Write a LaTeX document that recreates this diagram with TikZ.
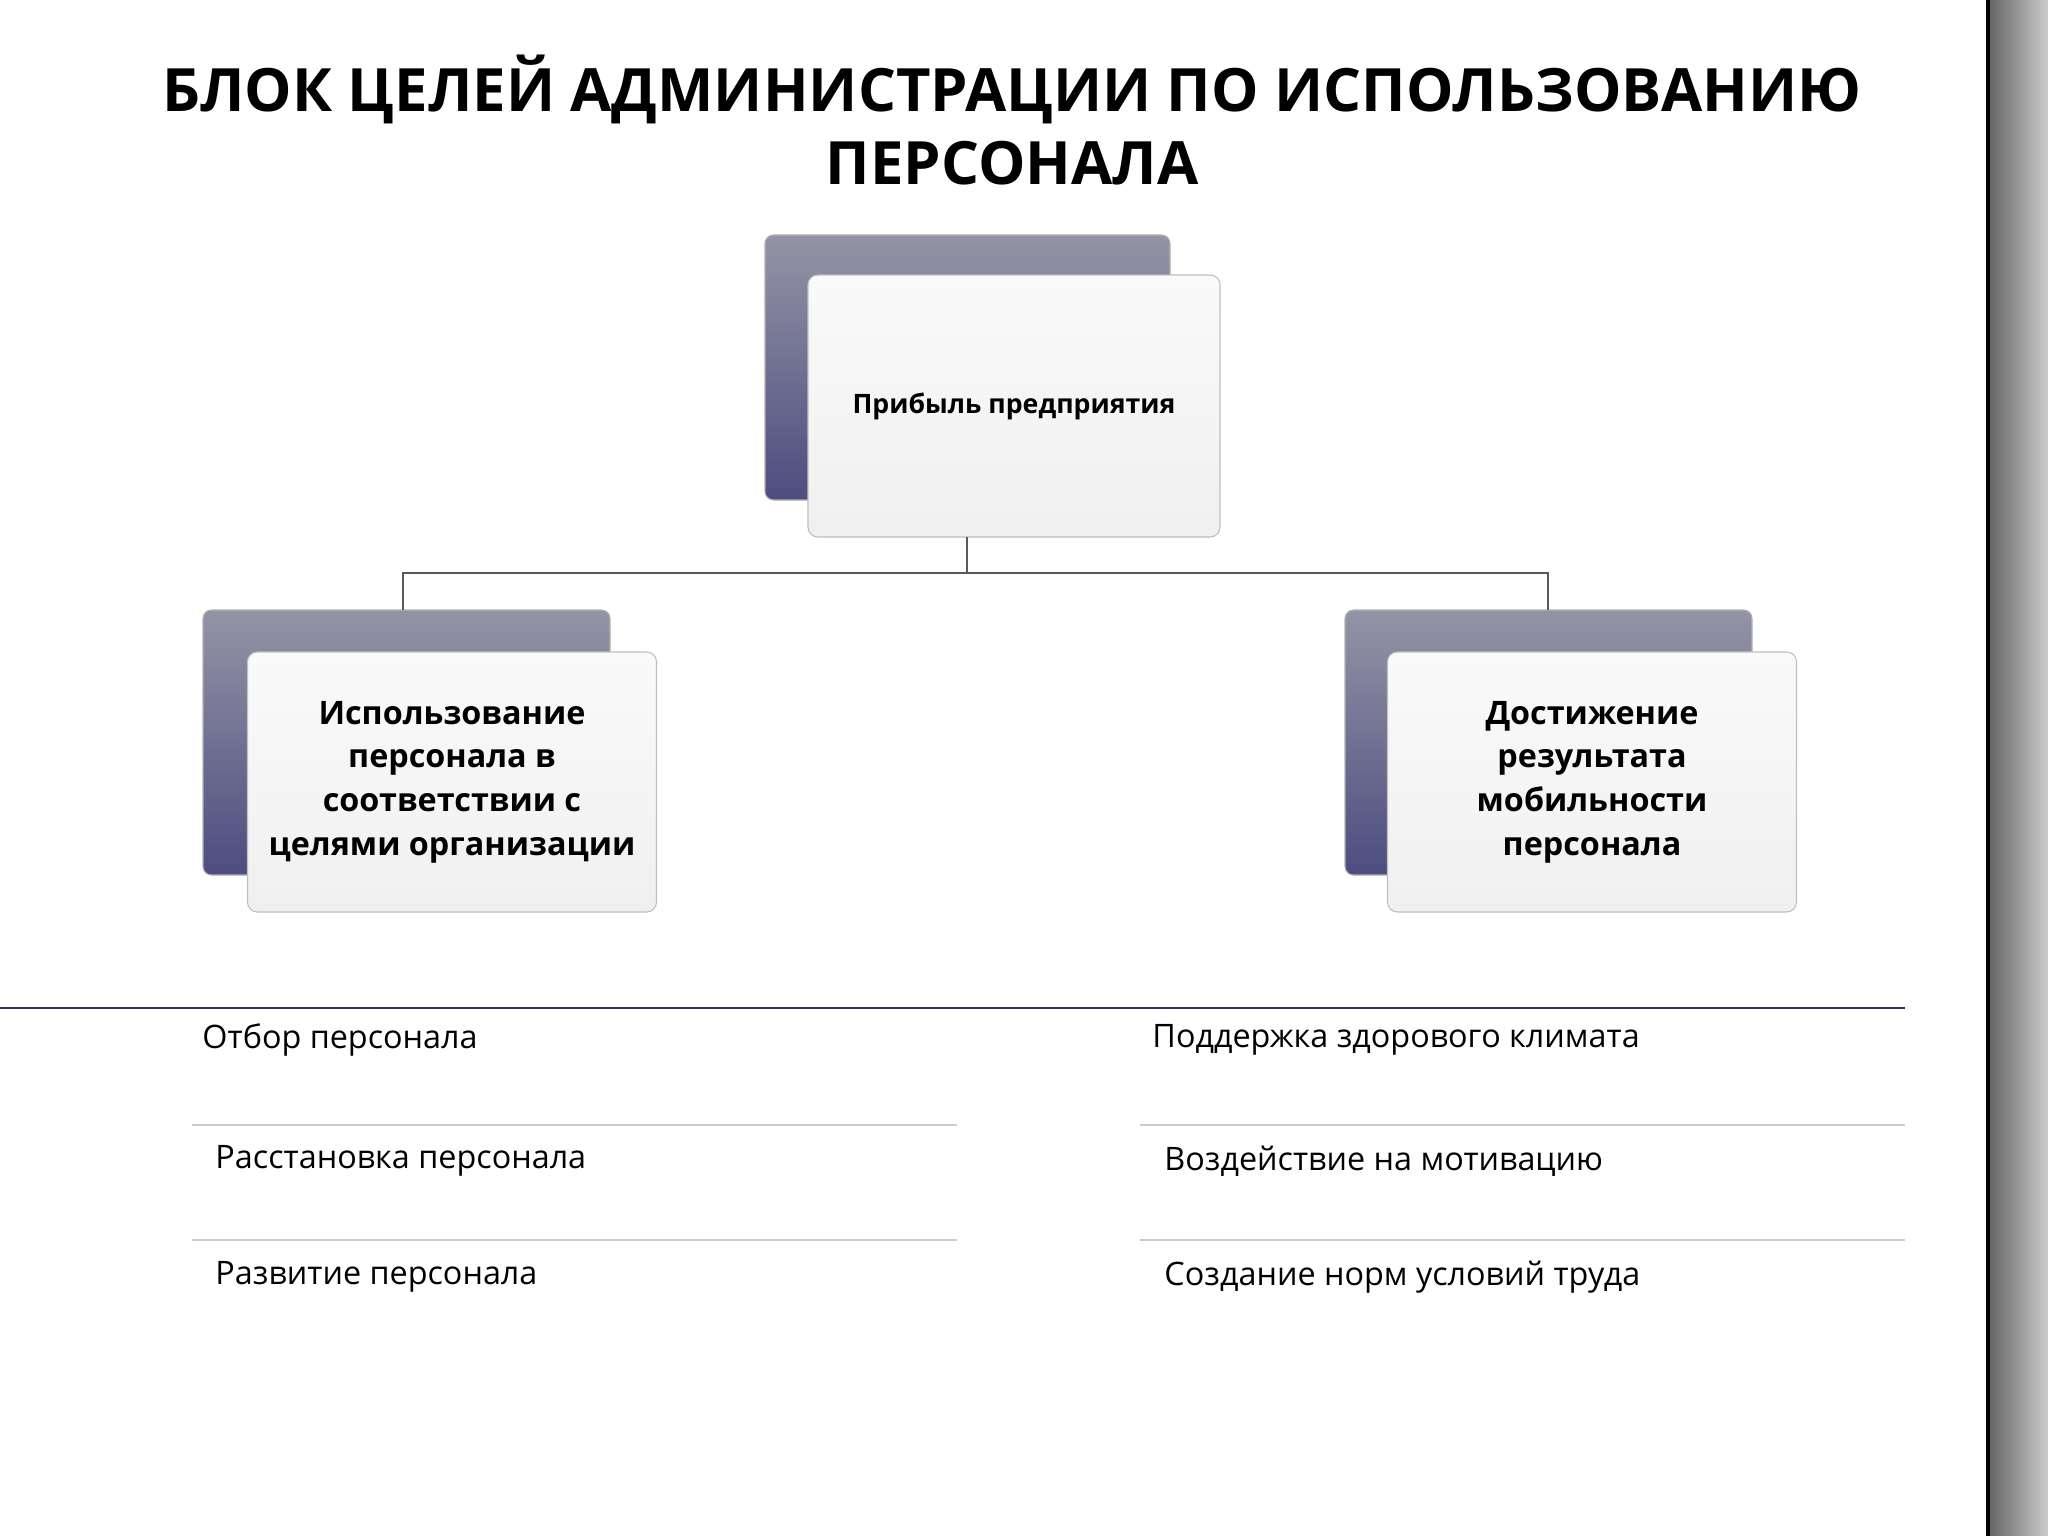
\documentclass[tikz,border=0pt]{standalone}
\usepackage{fontspec}
\setmainfont{Open Sans}
\begin{document}
\begin{tikzpicture}[x=0.05cm,y=-0.05cm,
 backbox/.style={top color=black!50!blue!20!gray!70, bottom color=gray!75!blue!80!black, draw=gray!60, rounded corners=12pt, line width=1.5pt},
 frontbox/.style={top color=gray!4, bottom color=gray!12, draw=gray!50, rounded corners=14pt, line width=1.5pt, align=center, font=\bfseries\fontsize{46}{62}\selectfont},
 conn/.style={draw=gray!70!black, line width=2.5pt},
 sep/.style={draw=gray!40, line width=2.5pt},
 item/.style={anchor=west, font=\fontsize{46}{54}\selectfont}]
\useasboundingbox (0,0) rectangle (2048,1536);
\fill[white] (0,0) rectangle (2048,1536);
\shade[left color=gray!80!black, right color=gray!40] (1990,0) rectangle (2048,1536);
\draw[line width=6pt] (1988,0) -- (1988,1536);
\node[font=\bfseries\fontsize{85}{105}\selectfont, align=center] (title) at (1012,120) {БЛОК ЦЕЛЕЙ АДМИНИСТРАЦИИ ПО ИСПОЛЬЗОВАНИЮ\\ПЕРСОНАЛА};
% boxes
\draw[backbox] (765,235) rectangle (1170,500);
\node[frontbox, minimum width=412*0.05cm, minimum height=262*0.05cm, font=\bfseries\fontsize{38}{46}\selectfont] (top) at (1014,406) {Прибыль предприятия};
\draw[backbox] (203,610) rectangle (610,875);
\node[frontbox, minimum width=409*0.05cm, minimum height=260*0.05cm] (left) at (452,782) {Использование\\персонала в\\соответствии с\\целями организации};
\draw[backbox] (1345,610) rectangle (1752,875);
\node[frontbox, minimum width=409*0.05cm, minimum height=260*0.05cm] (right) at (1592,782) {Достижение\\результата\\мобильности\\персонала};
\coordinate (j) at (967,573);
\coordinate (jl) at (403,573);
\coordinate (jr) at (1548,573);
\coordinate (tl) at (403,610);
\coordinate (tr) at (1548,610);
\draw[conn] (967,537) -- (j);
\draw[conn] (tl) -- (jl) -- (jr) -- (tr);
% lines
\draw[line width=3pt, draw=gray!60!blue!60!black] (0,1008) -- (1905,1008);
\draw[sep] (192,1125) -- (957,1125);
\draw[sep] (1140,1125) -- (1905,1125);
\draw[sep] (192,1240) -- (957,1240);
\draw[sep] (1140,1240) -- (1905,1240);
\node[item] (a1) at (200,1040) {Отбор персонала};
\node[item] (a2) at (213,1161) {Расстановка персонала};
\node[item] (a3) at (213,1277) {Развитие персонала};
\node[item] (b1) at (1150,1040) {Поддержка здорового климата};
\node[item] (b2) at (1162,1161) {Воздействие на мотивацию};
\node[item] (b3) at (1162,1277) {Создание норм условий труда};
\end{tikzpicture}
\end{document}
